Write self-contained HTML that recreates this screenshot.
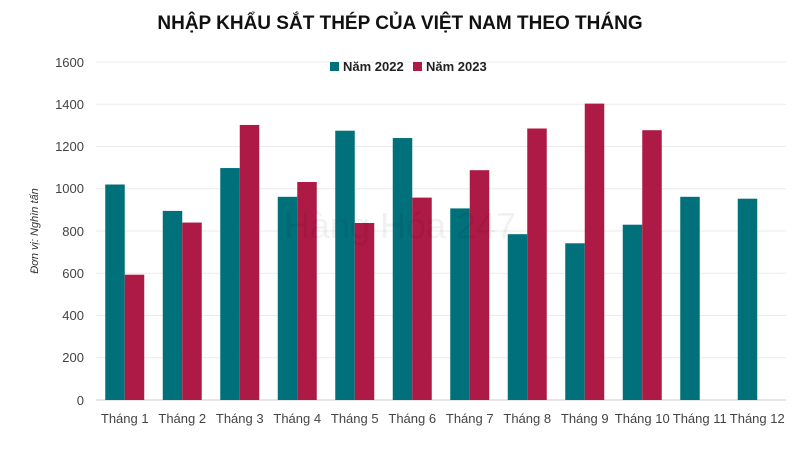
<!DOCTYPE html>
<html><head><meta charset="utf-8"><style>
body{margin:0;background:#fff;}
svg{display:block;font-family:"Liberation Sans",sans-serif;}
</style></head><body>
<svg width="800" height="450" xmlns="http://www.w3.org/2000/svg">
<text x="400" y="29" text-anchor="middle" font-size="19" font-weight="bold" fill="#111">NHẬP KHẨU SẮT THÉP CỦA VIỆT NAM THEO THÁNG</text>
<g stroke="#ebebeb" stroke-width="1">
<line x1="96" x2="786" y1="62" y2="62"/><line x1="96" x2="786" y1="104.25" y2="104.25"/>
<line x1="96" x2="786" y1="146.5" y2="146.5"/><line x1="96" x2="786" y1="188.75" y2="188.75"/>
<line x1="96" x2="786" y1="231" y2="231"/><line x1="96" x2="786" y1="273.25" y2="273.25"/>
<line x1="96" x2="786" y1="315.5" y2="315.5"/><line x1="96" x2="786" y1="357.75" y2="357.75"/>
</g>
<line x1="96" x2="786" y1="400" y2="400" stroke="#ccc"/>
<g font-size="13" fill="#444" text-anchor="end">
<text x="84" y="67">1600</text><text x="84" y="109">1400</text><text x="84" y="151">1200</text>
<text x="84" y="193">1000</text><text x="84" y="236">800</text><text x="84" y="278">600</text>
<text x="84" y="320">400</text><text x="84" y="362">200</text><text x="84" y="405">0</text>
</g>
<text transform="translate(38,231) rotate(-90)" text-anchor="middle" font-size="11" font-style="italic" fill="#333">Đơn vị: Nghìn tấn</text>
<rect x="330" y="62" width="9" height="9" fill="#00707a"/><text x="343" y="71" font-size="13" font-weight="bold" fill="#222">Năm 2022</text>
<rect x="413" y="62" width="9" height="9" fill="#ad1a45"/><text x="426" y="71" font-size="13" font-weight="bold" fill="#222">Năm 2023</text>
<g fill="#00707a">
<rect x="105.25" y="184.5" width="19.5" height="215.5"/>
<rect x="162.75" y="210.9" width="19.5" height="189.1"/>
<rect x="220.25" y="168.05" width="19.5" height="231.95"/>
<rect x="277.75" y="196.8" width="19.5" height="203.2"/>
<rect x="335.25" y="130.7" width="19.5" height="269.3"/>
<rect x="392.75" y="138.05" width="19.5" height="261.95"/>
<rect x="450.25" y="208.4" width="19.5" height="191.6"/>
<rect x="507.75" y="234.2" width="19.5" height="165.8"/>
<rect x="565.25" y="243.3" width="19.5" height="156.7"/>
<rect x="622.75" y="224.7" width="19.5" height="175.3"/>
<rect x="680.25" y="196.8" width="19.5" height="203.2"/>
<rect x="737.75" y="198.7" width="19.5" height="201.3"/>
</g>
<g fill="#ad1a45">
<rect x="124.75" y="274.7" width="19.5" height="125.3"/>
<rect x="182.25" y="222.55" width="19.5" height="177.45"/>
<rect x="239.75" y="124.95" width="19.5" height="275.05"/>
<rect x="297.25" y="182" width="19.5" height="218"/>
<rect x="354.75" y="223" width="19.5" height="177"/>
<rect x="412.25" y="197.6" width="19.5" height="202.4"/>
<rect x="469.75" y="170.2" width="19.5" height="229.8"/>
<rect x="527.25" y="128.5" width="19.5" height="271.5"/>
<rect x="584.75" y="103.6" width="19.5" height="296.4"/>
<rect x="642.25" y="130.2" width="19.5" height="269.8"/>
</g>
<g font-size="13" fill="#444" text-anchor="middle">
<text x="124.75" y="423">Tháng 1</text><text x="182.25" y="423">Tháng 2</text>
<text x="239.75" y="423">Tháng 3</text><text x="297.25" y="423">Tháng 4</text>
<text x="354.75" y="423">Tháng 5</text><text x="412.25" y="423">Tháng 6</text>
<text x="469.75" y="423">Tháng 7</text><text x="527.25" y="423">Tháng 8</text>
<text x="584.75" y="423">Tháng 9</text><text x="642.25" y="423">Tháng 10</text>
<text x="699.75" y="423">Tháng 11</text><text x="757.25" y="423">Tháng 12</text>
</g>
<text x="400" y="238" text-anchor="middle" font-size="36" fill="#000" opacity="0.05">Hàng Hóa 247</text>
</svg>
</body></html>
